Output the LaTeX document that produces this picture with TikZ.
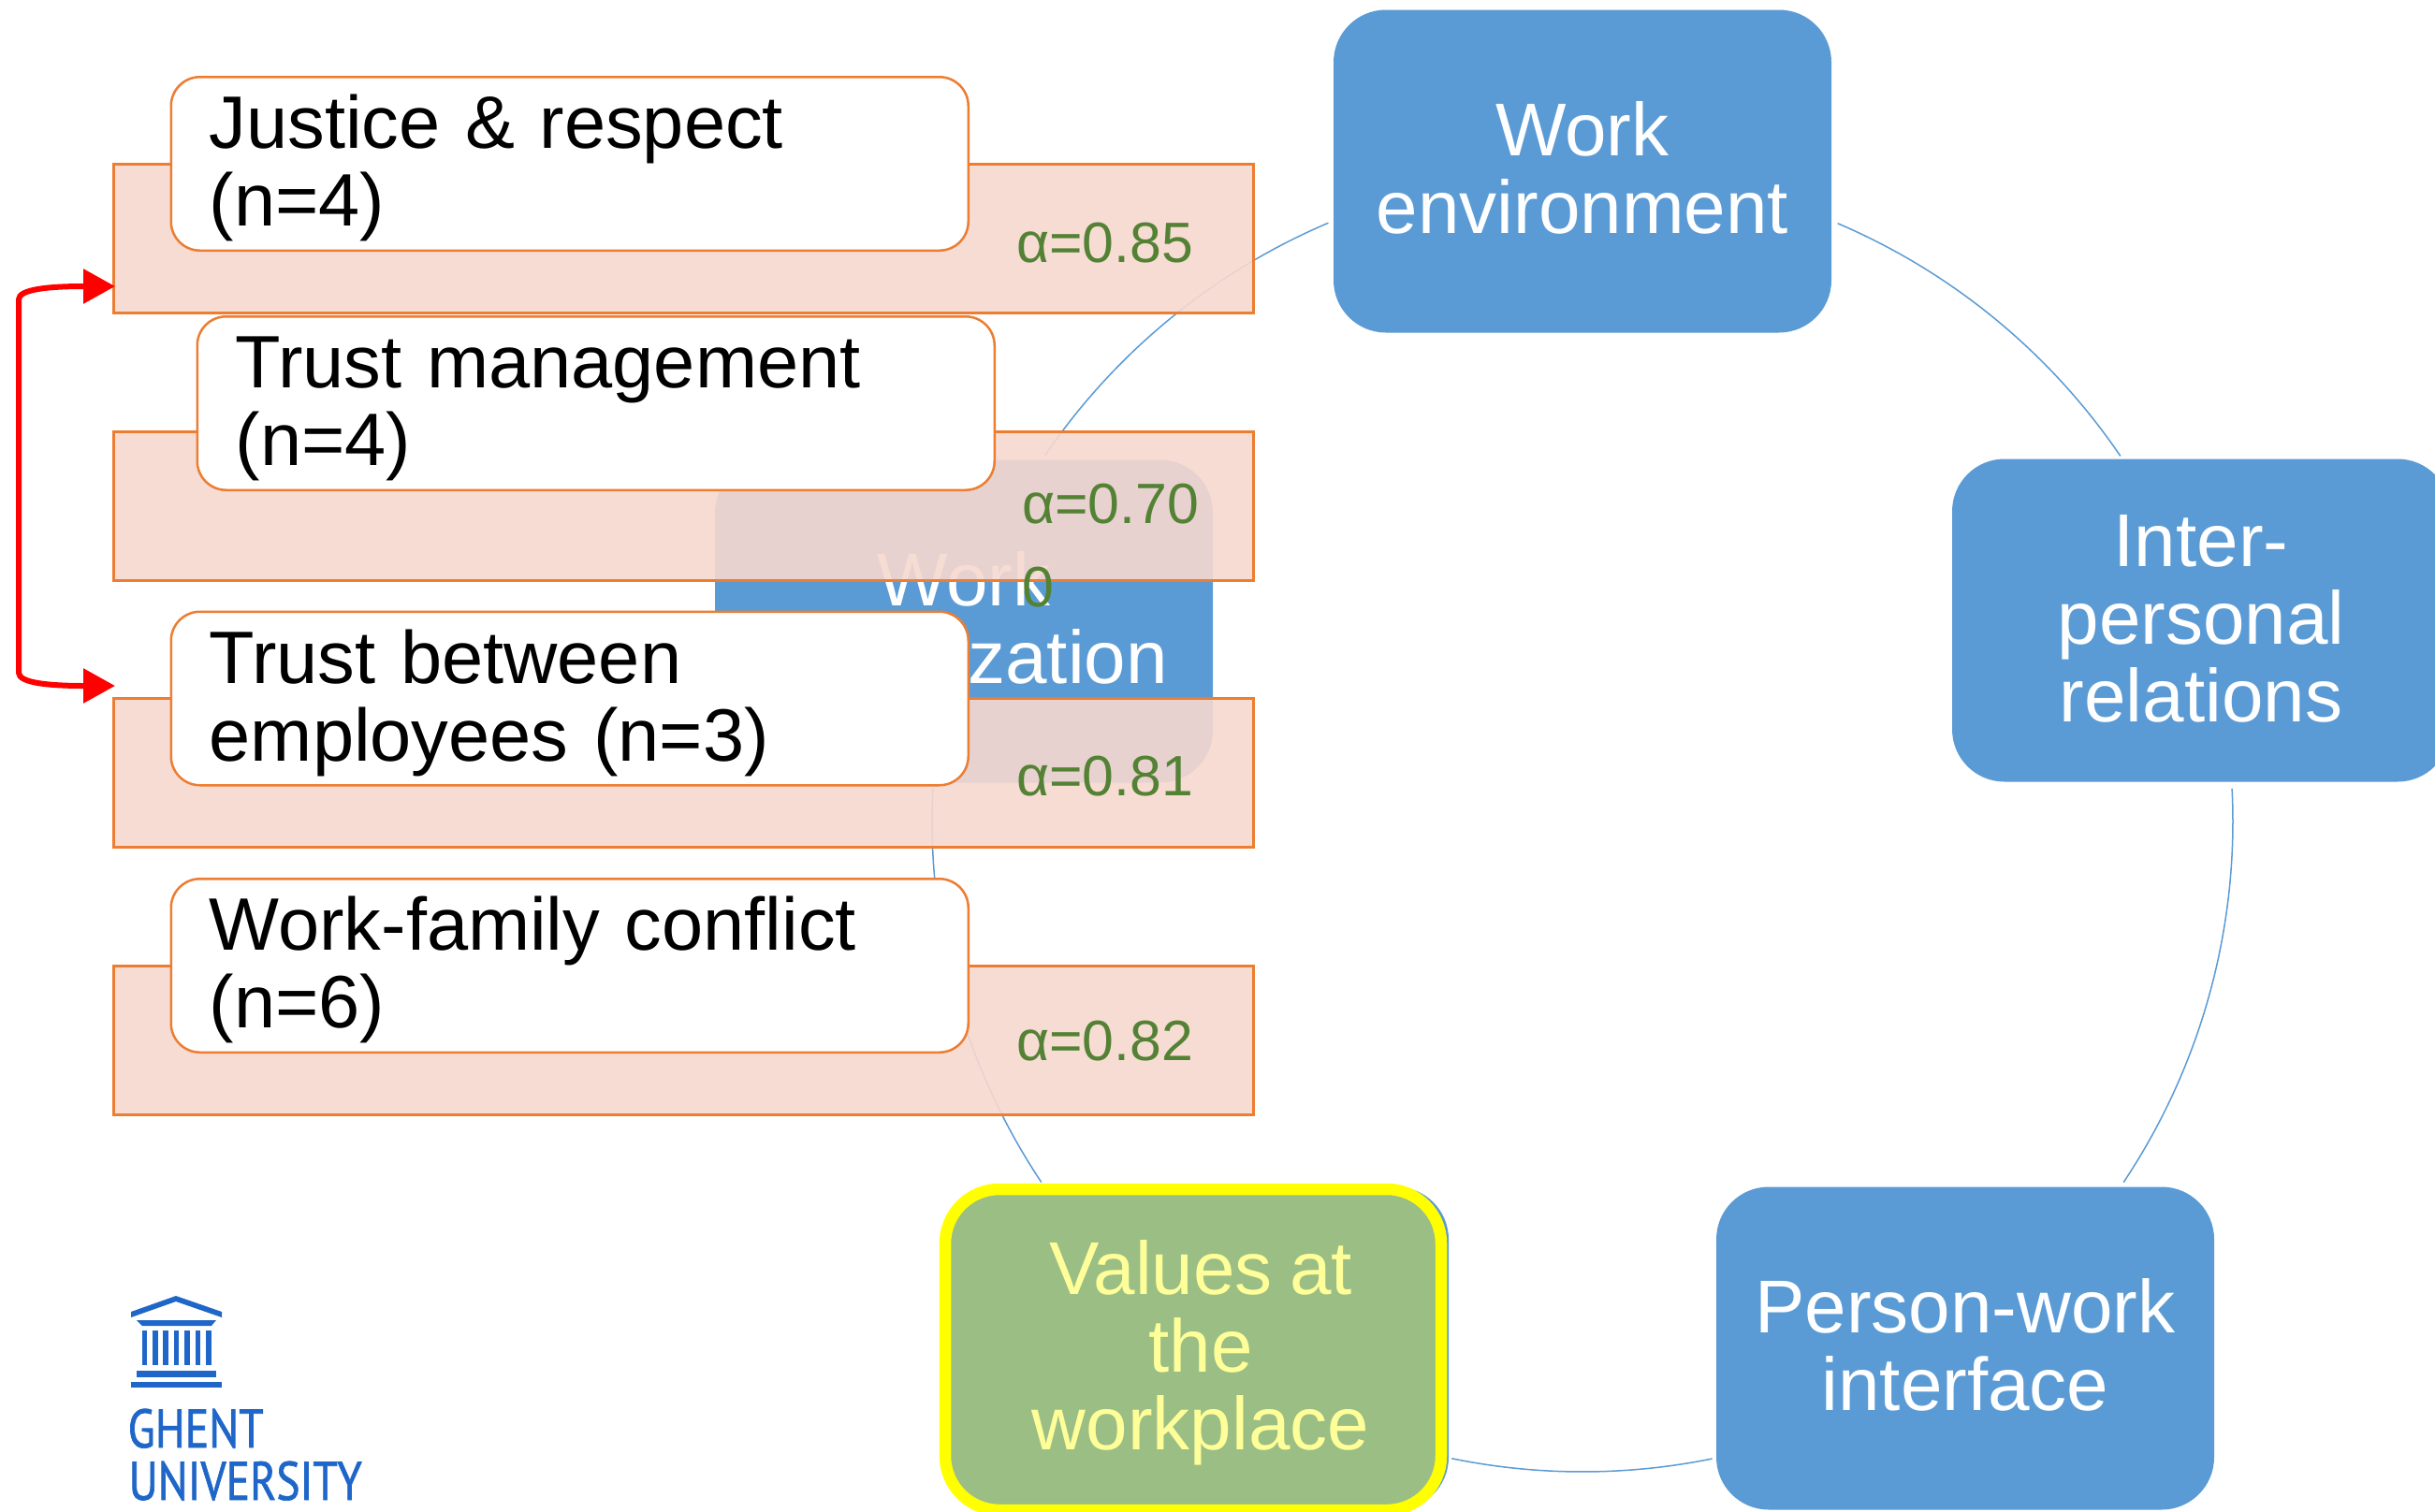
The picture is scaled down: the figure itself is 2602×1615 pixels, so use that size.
\documentclass[tikz,border=0pt]{standalone}
\usepackage{fontspec}
\setmainfont[WordSpace=0.82]{Liberation Sans}
\newfontfamily\logofont[FakeStretch=0.82,FakeBold=1.2]{PT Sans}
\usetikzlibrary{arrows.meta,calc}
\definecolor{bluefill}{HTML}{5B9BD5}
\definecolor{pinkfill}{HTML}{F7D9D0}
\definecolor{orangeline}{HTML}{ED7D31}
\definecolor{alphagreen}{HTML}{548235}
\definecolor{greenfill}{HTML}{9BBE85}
\definecolor{paleyellow}{HTML}{FFFF99}
\definecolor{purelyellow}{HTML}{FFFF00}
\definecolor{logoblue}{HTML}{1F66C9}
\newcommand{\firstline}{\rule{0pt}{70pt}}
\newcommand{\lastline}{\rule[-20pt]{0pt}{20pt}}
\newcommand{\lastcard}{\rule[-20pt]{0pt}{20pt}}
\tikzset{
  bluebox/.style={fill=bluefill,rounded corners=56pt,minimum width=532pt,minimum height=345pt,inner sep=0pt,
    text=white,align=center,font=\fontsize{80}{83}\selectfont},
  pinkbox/.style={fill=pinkfill,fill opacity=.9,draw=orangeline,line width=3pt,minimum width=1218pt,minimum height=159pt,inner sep=0pt,anchor=north west},
  whitebox/.style={fill=white,draw=orangeline,line width=2.5pt,rounded corners=31pt,minimum height=185.5pt,text width=770pt,inner xsep=41pt,inner ysep=0pt,
    align=left,text=black,anchor=north west,font=\fontsize{79.4}{83}\selectfont},
  alphatext/.style={text=alphagreen,anchor=base west,inner sep=0pt,align=left,font=\fontsize{60.8}{89}\selectfont},
  ring/.style={draw=bluefill,line width=1.5pt},
  redlink/.style={draw=red,line width=6pt,{Triangle[length=34pt,width=36pt]}-{Triangle[length=34pt,width=36pt]}},
  logopart/.style={fill=logoblue,draw=none}
}
\begin{document}
\begin{tikzpicture}[x=1pt,y=-1pt]
\useasboundingbox (0,0) rectangle (2602,1615);
\fill[white] (0,0) rectangle (2602,1615);
\coordinate (c) at (1691,878);
% ring arcs
\draw[ring] (c) ++(-66.9:695) arc[start angle=-66.9,end angle=-34.2,radius=695];
\draw[ring] (c) ++(-2.9:695) arc[start angle=-2.9,end angle=33.7,radius=695];
\draw[ring] (c) ++(78.5:695) arc[start angle=78.5,end angle=101.6,radius=695];
\draw[ring] (c) ++(146.3:695) arc[start angle=146.3,end angle=182.9,radius=695];
\draw[ring] (c) ++(214.3:695) arc[start angle=214.3,end angle=247,radius=695];
% cycle nodes
\node[bluebox] (env) at (1691,183) {\firstline Work\\environment\lastline};
\node[bluebox] (inter) at (2352,663) {\firstline Inter-\\personal\\relations\lastline};
\node[bluebox] (person) at (2100,1441) {\firstline Person-work\\interface\lastline};
\node[bluebox] (valuesback) at (1282,1441) {};
\node[bluebox] (org) at (1030,664) {\firstline Work\\organization\lastline};
\node[fill=greenfill,draw=purelyellow,line width=12.5pt,rounded corners=58pt,minimum width=530pt,minimum height=343pt,inner sep=0pt] (values) at (1275,1442.5) {};
\node[text=paleyellow,align=center,inner sep=0pt,font=\fontsize{80}{83}\selectfont] (valuestext) at (1283,1441) {\firstline Values at\\the\\workplace\lastline};
% pink bands
\node[pinkbox] (p1) at (120,174) {};
\node[pinkbox] (p2) at (120,460) {};
\node[pinkbox] (p3) at (120,745) {};
\node[pinkbox] (p4) at (120,1031) {};
% alpha labels
\node[alphatext] (a1) at (1086,280) {α=0.85};
\node[alphatext] (a2) at (1092,648) {α=0.70\\0};
\node[alphatext] (a3) at (1086,850) {α=0.81};
\node[alphatext] (a4) at (1086,1133) {α=0.82};
% white cards
\node[whitebox] (w1) at (181.5,81) {\firstline Justice \& respect\\(n=4)\lastcard};
\node[whitebox] (w2) at (209.5,337) {\firstline Trust management\\(n=4)\lastcard};
\node[whitebox] (w3) at (181.5,652.5) {\firstline Trust between\\employees (n=3)\lastcard};
\node[whitebox] (w4) at (181.5,938) {\firstline Work-family conflict\\(n=6)\lastcard};
% red link
\coordinate (t1) at ($(p1.south west)+(3,-30)$);
\coordinate (t3) at ($(p3.north west)+(3,-12)$);
\draw[redlink] (t1) .. controls ($(t1)+(-70,0)$) and ($(t1)+(-103,3)$) .. ($(t1)+(-103,14)$) -- ($(t3)+(-103,-14)$) .. controls ($(t3)+(-103,-3)$) and ($(t3)+(-70,0)$) .. (t3);
% logo
\fill[logopart] (140,1402) -- (188,1385) -- (237,1402) -- (237,1408) -- (188,1391) -- (140,1408) -- cycle;
\fill[logopart] (146,1411) -- (231,1411) -- (226,1417) -- (152,1417) -- cycle;
\foreach \xx in {151.5,163,174,185.5,197,208.5,220}{
  \fill[logopart] (\xx,1422) rectangle ++(5.6,37);
}
\fill[logopart] (146,1465) rectangle (231,1472);
\fill[logopart] (140,1477) rectangle (237,1483);
\node[text=logoblue,anchor=base west,inner sep=0pt,font=\logofont\fontsize{58}{58}\selectfont] (ghent) at (136.5,1547) {GHENT};
\node[text=logoblue,anchor=base west,inner sep=0pt,font=\logofont\fontsize{58}{58}\selectfont] (univ) at (137.5,1603) {UNIVERSITY};
\end{tikzpicture}
\end{document}
